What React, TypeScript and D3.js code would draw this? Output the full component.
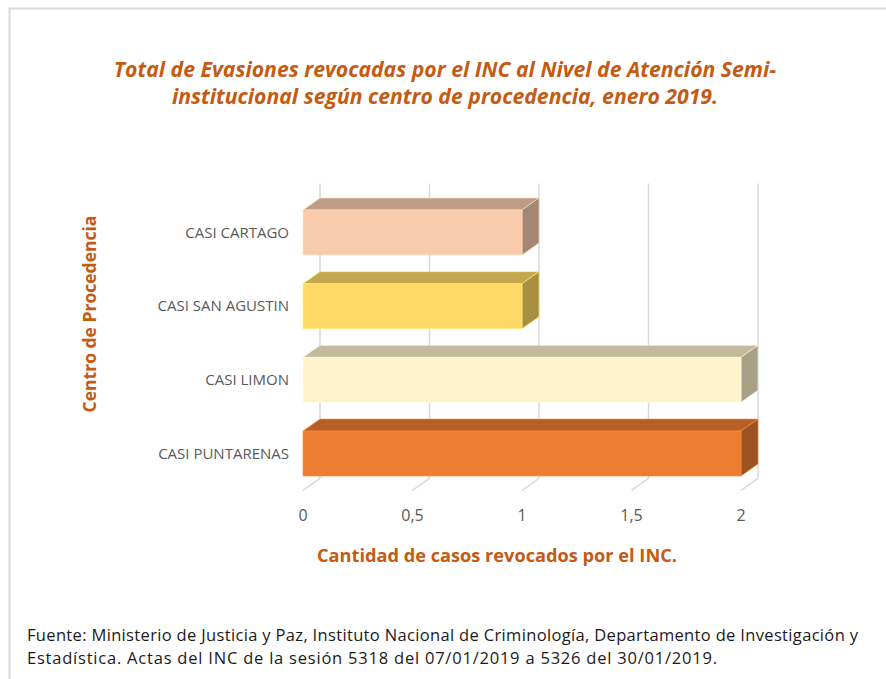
import * as React from 'react';
import * as d3 from 'd3';

const categories = ['CASI CARTAGO', 'CASI SAN AGUSTIN', 'CASI LIMON', 'CASI PUNTARENAS'];
const values = [1, 1, 2, 2];
const barColors = ['#F8CBAD', '#FFD966', '#FFF2CC', '#ED7D31'];
const tickValues = [0, 0.5, 1, 1.5, 2];
const titleLines = [
  'Total de Evasiones revocadas por el INC al Nivel de Atención Semi-',
  'institucional según centro de procedencia, enero 2019.',
];
const footerLines = [
  'Fuente: Ministerio de Justicia y Paz, Instituto Nacional de Criminología, Departamento de Investigación y',
  'Estadística. Actas del INC de la sesión 5318 del 07/01/2019 a 5326 del 30/01/2019.',
];
const footerWidths = [831, 690];

const W = 886;
const H = 679;
const DX = 17; // 3d depth
const DY = 12;
const FONT = '"Open Sans", Lato, sans-serif';
const ORANGE = '#C55A11';

const shade = (c: string, k: number) => {
  const rgb = d3.rgb(c);
  return d3.rgb(rgb.r * k, rgb.g * k, rgb.b * k).formatHex();
};

export default function App() {
  const x = d3.scaleLinear().domain([0, 2]).range([303, 741]);
  const y = d3.scaleBand<string>()
    .domain(categories)
    .range([195.6, 490.4])
    .paddingInner(0.39)
    .paddingOuter(0.195);
  const floorY = 490.4;
  const topY = 195.6;
  const fmt = (v: number) => String(v).replace('.', ',');

  return (
    <svg width={W} height={H} style={{ position: 'absolute', left: 0, top: 0, background: '#fff' }}
      fontFamily={FONT}>
      {/* outer frame */}
      <path d={`M9.5,${H} V8.5 H${W}`} fill="none" stroke="#D9D9D9" strokeWidth={2} />

      {/* title */}
      {titleLines.map((t, i) => (
        <text key={i} x={445} y={77 + i * 27} textAnchor="middle" fill={ORANGE}
          fontSize={21.2} fontWeight="bold" fontStyle="italic">{t}</text>
      ))}

      {/* back wall gridlines + floor */}
      {tickValues.map(v => (
        <g key={v} stroke="#D9D9D9" strokeWidth={1.5} fill="none">
          <line x1={x(v) + DX} x2={x(v) + DX} y1={topY - DY} y2={floorY - DY} />
          <line x1={x(v) + DX} x2={x(v)} y1={floorY - DY} y2={floorY} />
        </g>
      ))}

      {/* bars */}
      {categories.map((c, i) => {
        const y0 = y(c)!;
        const h = y.bandwidth();
        const x0 = x(0);
        const x1 = x(values[i]);
        const col = barColors[i];
        return (
          <g key={c} stroke={d3.rgb(col).brighter(0.3).formatHex()} strokeWidth={0.6} strokeLinejoin="round">
            <path d={`M${x0},${y0} L${x1},${y0} L${x1 + DX},${y0 - DY} L${x0 + DX},${y0 - DY} Z`}
              fill={shade(col, 0.77)} />
            <path d={`M${x1},${y0} L${x1 + DX},${y0 - DY} L${x1 + DX},${y0 + h - DY} L${x1},${y0 + h} Z`}
              fill={shade(col, 0.66)} />
            <rect x={x0} y={y0} width={x1 - x0} height={h} fill={col} />
          </g>
        );
      })}

      {/* category labels */}
      {categories.map(c => (
        <text key={c} x={289} y={y(c)! + y.bandwidth() / 2} dy="0.35em" textAnchor="end"
          fill="#595959" fontSize={15}>{c}</text>
      ))}

      {/* x tick labels */}
      {tickValues.map(v => (
        <text key={v} x={x(v)} y={521} textAnchor="middle" fill="#595959" fontSize={16}>{fmt(v)}</text>
      ))}

      {/* axis titles */}
      <text x={497} y={562} textAnchor="middle" fill={ORANGE} fontSize={18.2} fontWeight="bold">
        Cantidad de casos revocados por el INC.
      </text>
      <text transform="translate(96,314) rotate(-90)" textAnchor="middle" fill={ORANGE}
        fontSize={17.5} fontWeight="bold">Centro de Procedencia</text>

      {/* footer */}
      {footerLines.map((t, i) => (
        <text key={i} x={27} y={641 + i * 23} fill="#1a1a1a" fontSize={16.5}
          textLength={footerWidths[i]} lengthAdjust="spacing">{t}</text>
      ))}
    </svg>
  );
}
